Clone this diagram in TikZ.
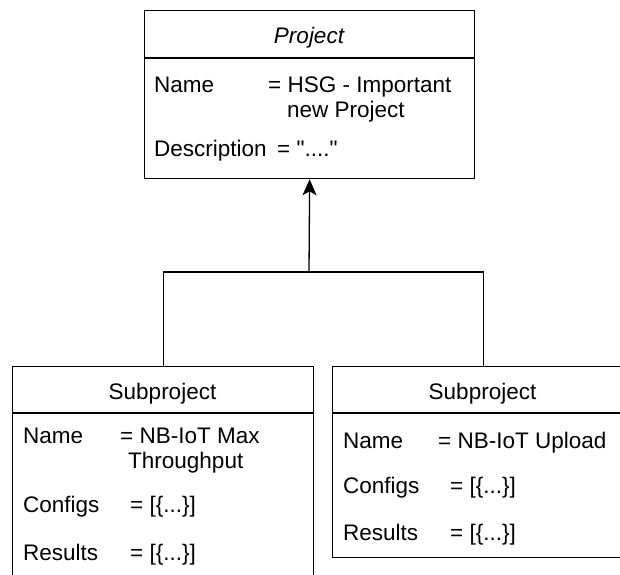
\documentclass[tikz,border=0pt]{standalone}
\usepackage{fontspec}
\setmainfont{Liberation Sans}
\newfontfamily\rawfont{Liberation Sans}
\usetikzlibrary{arrows.meta}
\begin{document}
\begin{tikzpicture}[x=1pt,y=-1pt,
  umlbox/.style={draw=black, line width=1.3pt, rectangle, inner sep=0pt, anchor=north west},
  lbl/.style={anchor=base west, inner sep=0pt, font=\fontsize{22.5}{27}\selectfont},
  ttl/.style={anchor=base, inner sep=0pt, font=\fontsize{22.5}{27}\selectfont},
  conn/.style={line width=1.3pt, draw=black}]
\useasboundingbox (0,0) rectangle (620,574);
\clip (0,0) rectangle (620,574);
% boxes
\node[umlbox, minimum width=330pt, minimum height=168pt] (proj) at (144,10) {};
\node[umlbox, minimum width=301pt, minimum height=240pt] (subA) at (12,366) {};
\node[umlbox, minimum width=301pt, minimum height=191pt] (subB) at (332,366) {};
% header separators
\coordinate (ph) at (0,58);
\coordinate (sh) at (0,413);
\draw[conn] (proj.west |- ph) -- (proj.east |- ph);
\draw[conn] (subA.west |- sh) -- (subA.east |- sh);
\draw[conn] (subB.west |- sh) -- (subB.east |- sh);
% project texts
\node[ttl, font=\fontsize{22.5}{27}\selectfont\itshape] (pt) at (309,43) {Project};
\node[lbl] (pn) at (154,92) {Name};
\node[lbl] (pnv) at (268,92) {= HSG - Important};
\node[lbl] (pnv2) at (287,117) {new Project};
\node[lbl] (pd) at (154,156) {Description};
\node[lbl] (pdv) at (277,156) {\rawfont = "...."};
% subproject A
\node[ttl] (at) at (162.5,399) {Subproject};
\node[lbl] (an) at (23,443) {Name};
\node[lbl] (anv) at (120,443) {= NB-IoT Max};
\node[lbl] (anv2) at (128,468) {Throughput};
\node[lbl] (ac) at (23,512) {Configs};
\node[lbl] (acv) at (130,512) {= [\{...\}]};
\node[lbl] (ar) at (23,560) {Results};
\node[lbl] (arv) at (130,560) {= [\{...\}]};
% subproject B
\node[ttl] (bt) at (482.5,399) {Subproject};
\node[lbl] (bn) at (343,448) {Name};
\node[lbl] (bnv) at (438,448) {= NB-IoT Upload};
\node[lbl] (bc) at (343,493) {Configs};
\node[lbl] (bcv) at (450,493) {= [\{...\}]};
\node[lbl] (br) at (343,540) {Results};
\node[lbl] (brv) at (450,540) {= [\{...\}]};
% connectors
\coordinate (junc) at (309,272);
\draw[conn] (subA.north) |- (junc) -| (subB.north);
\draw[conn, -{Stealth[length=16pt, width=14pt, inset=4pt]}] (junc) -- (proj.south);
\end{tikzpicture}
\end{document}
